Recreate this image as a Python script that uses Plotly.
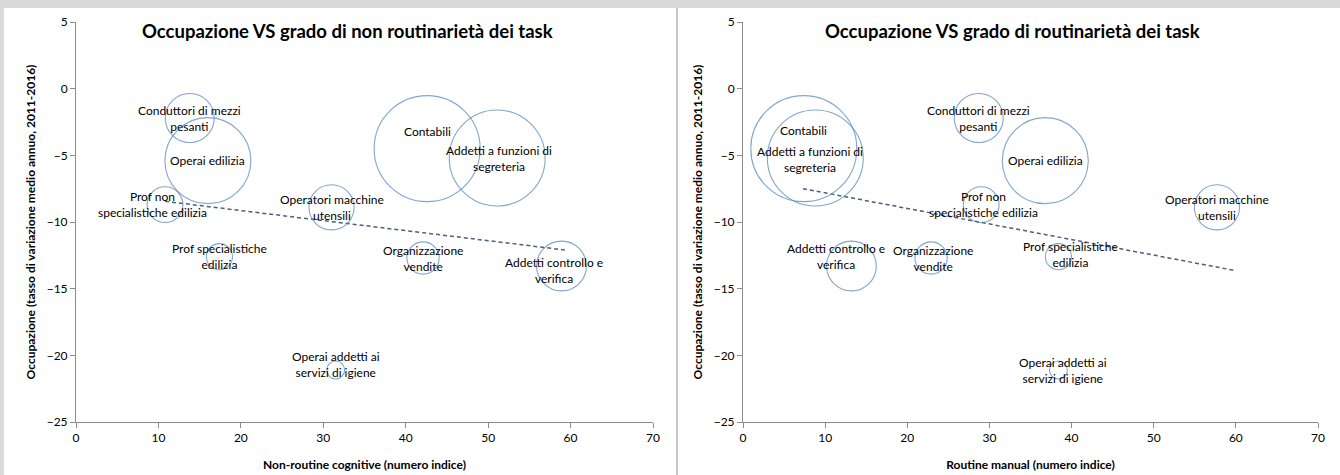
import plotly.graph_objects as go

# ---------------- data ----------------
occupations = [
    "Conduttori di mezzi<br>pesanti",
    "Operai edilizia",
    "Prof non<br>specialistiche edilizia",
    "Prof specialistiche<br>edilizia",
    "Operatori macchine<br>utensili",
    "Contabili",
    "Addetti a funzioni di<br>segreteria",
    "Organizzazione<br>vendite",
    "Addetti controllo e<br>verifica",
    "Operai addetti ai<br>servizi di igiene",
]
non_routine_cognitive = [13.8, 16.0, 10.8, 17.4, 31.0, 42.6, 51.1, 42.1, 58.9, 31.5]
routine_manual = [28.7, 36.8, 29.0, 38.4, 57.7, 7.4, 8.8, 22.9, 13.2, 38.4]
occupazione_var = [-2.2, -5.4, -8.7, -12.6, -8.9, -4.5, -5.2, -12.7, -13.3, -21.1]
bubble_size = [60, 185, 32, 17, 51, 281, 230, 26, 62, 8]

trend_left_x = [10.8, 59.3]
trend_left_y = [-8.45, -12.1]
trend_right_x = [7.3, 60.0]
trend_right_y = [-7.5, -13.65]

x_ticks = [0, 10, 20, 30, 40, 50, 60, 70]
y_ticks = [5, 0, -5, -10, -15, -20, -25]

title_left = "Occupazione VS grado di non routinarietà dei task"
title_right = "Occupazione VS grado di routinarietà dei task"
xlabel_left = "Non-routine cognitive (numero indice)"
xlabel_right = "Routine manual (numero indice)"
ylabel = "Occupazione (tasso di variazione medio annuo, 2011-2016)"

# ---------------- style ----------------
W, H = 1340, 475
FONT = "Lato"
BUBBLE_LINE = "#4F81BD"
TREND_COLOR = "#4A5F82"
AXIS_COLOR = "#8C8C8C"
max_diam = 106
sizeref = 2.0 * max(bubble_size) / (max_diam ** 2)

# label pixel offsets (xshift, yshift) per occupation
shift_left = [(0, 0), (0, 0), (-13, 0), (0, 0), (0, 0), (0, 17), (2, 0), (0, 0), (-8, -4), (0, 6)]
shift_right = [(0, 0), (0, 0), (2, 0), (12, 2), (0, 0), (0, 18), (-5, -1), (2, 0), (-15, 10), (5, 0)]


def px_x(p):
    return p / W


def px_y(p):
    return 1 - p / H


fig = go.Figure()

for xs, xa, ya, tx, ty in [
    (non_routine_cognitive, "x", "y", trend_left_x, trend_left_y),
    (routine_manual, "x2", "y2", trend_right_x, trend_right_y),
]:
    fig.add_trace(go.Scatter(
        x=tx, y=ty, mode="lines", xaxis=xa, yaxis=ya,
        line=dict(color=TREND_COLOR, width=1.5, dash="4px,3px"),
        hoverinfo="skip", showlegend=False,
    ))
    fig.add_trace(go.Scatter(
        x=xs, y=occupazione_var, mode="markers", xaxis=xa, yaxis=ya,
        marker=dict(size=bubble_size, sizemode="area", sizeref=sizeref,
                    color="rgba(0,0,0,0)", line=dict(color=BUBBLE_LINE, width=1.1)),
        text=occupations, hoverinfo="text", showlegend=False, cliponaxis=False,
    ))

annotations = []
for xs, xr, yr, shifts in [
    (non_routine_cognitive, "x", "y", shift_left),
    (routine_manual, "x2", "y2", shift_right),
]:
    for name, xv, yv, (dx, dy) in zip(occupations, xs, occupazione_var, shifts):
        annotations.append(dict(
            x=xv, y=yv, xref=xr, yref=yr, text=name, showarrow=False,
            xshift=dx, yshift=dy, align="center", xanchor="center", yanchor="middle",
            font=dict(family=FONT, size=12, color="#000000"),
        ))

# titles
for tx, text in [(347, title_left), (1013, title_right)]:
    annotations.append(dict(x=px_x(tx), y=px_y(31), xref="paper", yref="paper",
                            text="<b>" + text + "</b>", showarrow=False,
                            xanchor="center", yanchor="middle",
                            font=dict(family=FONT, size=18.5, color="#000")))

axis_title_font = dict(family=FONT, size=12, color="#000")
tick_font = dict(family=FONT, size=12, color="#000")

common_x = dict(range=[0, 70], tickvals=x_ticks, showgrid=False, zeroline=False,
                showline=True, linecolor=AXIS_COLOR, linewidth=1, automargin=False,
                ticks="outside", ticklen=5, tickcolor=AXIS_COLOR, tickfont=tick_font,
                fixedrange=True)
common_y = dict(range=[-25, 5], tickvals=y_ticks, showgrid=False, zeroline=False,
                showline=True, linecolor=AXIS_COLOR, linewidth=1, automargin=False,
                ticks="outside", ticklen=5, tickcolor=AXIS_COLOR, tickfont=tick_font,
                fixedrange=True)

fig.update_layout(
    width=W, height=H,
    margin=dict(l=0, r=0, t=0, b=0, pad=0, autoexpand=False),
    paper_bgcolor="white", plot_bgcolor="rgba(0,0,0,0)",
    font=dict(family=FONT, size=12, color="#000"),
    xaxis=dict(common_x, domain=[px_x(76), px_x(653)], anchor="y",
               title=dict(text="<b>" + xlabel_left + "</b>", font=axis_title_font, standoff=16)),
    yaxis=dict(common_y, domain=[px_y(422), px_y(22)], anchor="x",
               title=dict(text="<b>" + ylabel + "</b>", font=axis_title_font, standoff=8)),
    xaxis2=dict(common_x, domain=[px_x(743), px_x(1318)], anchor="y2",
                title=dict(text="<b>" + xlabel_right + "</b>", font=axis_title_font, standoff=16)),
    yaxis2=dict(common_y, domain=[px_y(422), px_y(22)], anchor="x2",
                title=dict(text="<b>" + ylabel + "</b>", font=axis_title_font, standoff=8)),
    annotations=annotations,
    shapes=[
        dict(type="rect", xref="paper", yref="paper", x0=0, x1=1, y0=px_y(8), y1=1,
             fillcolor="#DADADA", line=dict(width=0), layer="below"),
        dict(type="rect", xref="paper", yref="paper", x0=0, x1=px_x(4), y0=0, y1=1,
             fillcolor="#DADADA", line=dict(width=0), layer="below"),
        dict(type="line", xref="paper", yref="paper", x0=px_x(677), x1=px_x(677), y0=0, y1=px_y(8),
             line=dict(color="#C8C8C8", width=2), layer="below"),
    ],
    hovermode="closest",
)

fig.write_html("out.html",
               config={"displayModeBar": False},
               post_script="document.body.style.margin='0px';document.body.style.padding='0px';")
